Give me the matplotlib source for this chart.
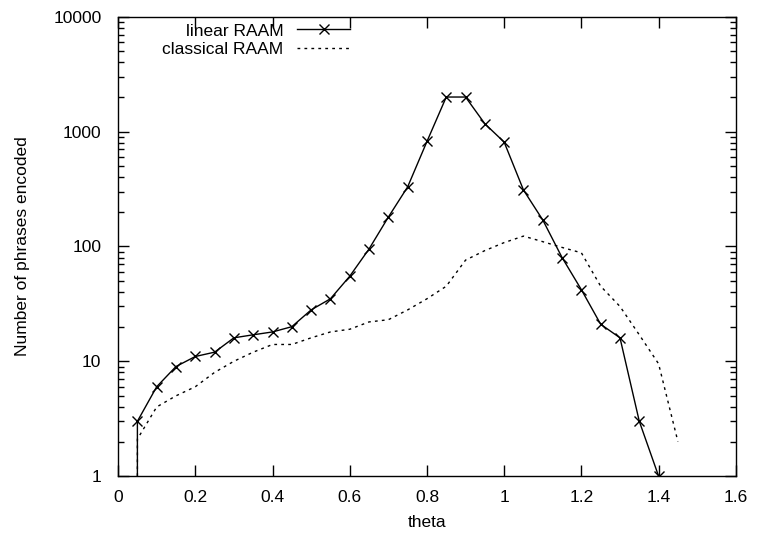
import matplotlib
matplotlib.use('Agg')
import matplotlib.pyplot as plt
from matplotlib.ticker import LogLocator, FixedLocator, NullFormatter

plt.rcParams['font.family'] = ['Liberation Sans', 'DejaVu Sans']

# linear RAAM (first point only draws the drop to the axis)
theta_lin = [0.05, 0.05, 0.10, 0.15, 0.20, 0.25, 0.30, 0.35, 0.40, 0.45, 0.50,
             0.55, 0.60, 0.65, 0.70, 0.75, 0.80, 0.85, 0.90, 0.95, 1.00,
             1.05, 1.10, 1.15, 1.20, 1.25, 1.30, 1.35, 1.40]
n_lin = [1, 3, 6, 9, 11, 12, 16, 17, 18, 20, 28,
         35, 55, 95, 180, 330, 820, 2000, 2000, 1170, 810,
         310, 170, 80, 42, 21, 16, 3, 1]

# classical RAAM
theta_cls = [0.05, 0.05, 0.10, 0.15, 0.20, 0.25, 0.30, 0.35, 0.40, 0.45, 0.50,
             0.55, 0.60, 0.65, 0.70, 0.75, 0.80, 0.85, 0.90, 0.95, 1.00,
             1.05, 1.10, 1.15, 1.20, 1.25, 1.30, 1.35, 1.40, 1.45]
n_cls = [1, 2.1, 4, 5, 6, 8, 10, 12, 14, 14, 16,
         18, 19, 22, 23, 28, 35, 45, 76, 92, 108,
         123, 110, 98, 88, 45, 30, 17, 9.5, 2]

FS = 12.5

fig = plt.figure(figsize=(7.57, 5.41), dpi=100)
ax = fig.add_axes([0.156, 0.120, 0.816, 0.849])

ax.plot(theta_lin, n_lin, color='black', lw=1, marker='x', ms=7, mew=1,
        markevery=list(range(1, len(theta_lin))), label='linear RAAM')
ax.plot(theta_cls, n_cls, color='black', lw=1, ls=(0, (2, 3)),
        label='classical RAAM')

ax.set_yscale('log')
ax.set_xlim(0, 1.6)
ax.set_ylim(1, 10000)
ax.xaxis.set_major_locator(FixedLocator([0, 0.2, 0.4, 0.6, 0.8, 1.0, 1.2, 1.4, 1.6]))
ax.set_xticklabels(['0', '0.2', '0.4', '0.6', '0.8', '1', '1.2', '1.4', '1.6'])
ax.yaxis.set_major_locator(FixedLocator([1, 10, 100, 1000, 10000]))
ax.set_yticklabels(['1', '10', '100', '1000', '10000'])
ax.yaxis.set_minor_locator(LogLocator(base=10, subs=range(2, 10)))
ax.yaxis.set_minor_formatter(NullFormatter())

ax.tick_params(which='both', direction='in', top=True, right=True, labelsize=FS)
ax.tick_params(axis='x', pad=10)
ax.tick_params(axis='y', pad=12)
ax.tick_params(which='major', length=8, width=1)
ax.tick_params(which='minor', length=4, width=1)
for s in ax.spines.values():
    s.set_linewidth(1)

ax.set_xlabel('theta', fontsize=FS, labelpad=7)
ax.set_ylabel('Number of phrases encoded', fontsize=FS, labelpad=17)

leg = ax.legend(loc='upper left', bbox_to_anchor=(0.052, 1.012), frameon=False,
                markerfirst=False, fontsize=FS, handlelength=3.05,
                labelspacing=0.2, borderaxespad=0.3, handletextpad=0.8)
for t in leg.get_texts():
    t.set_ha('right')

fig.savefig('out.png', dpi=100)
